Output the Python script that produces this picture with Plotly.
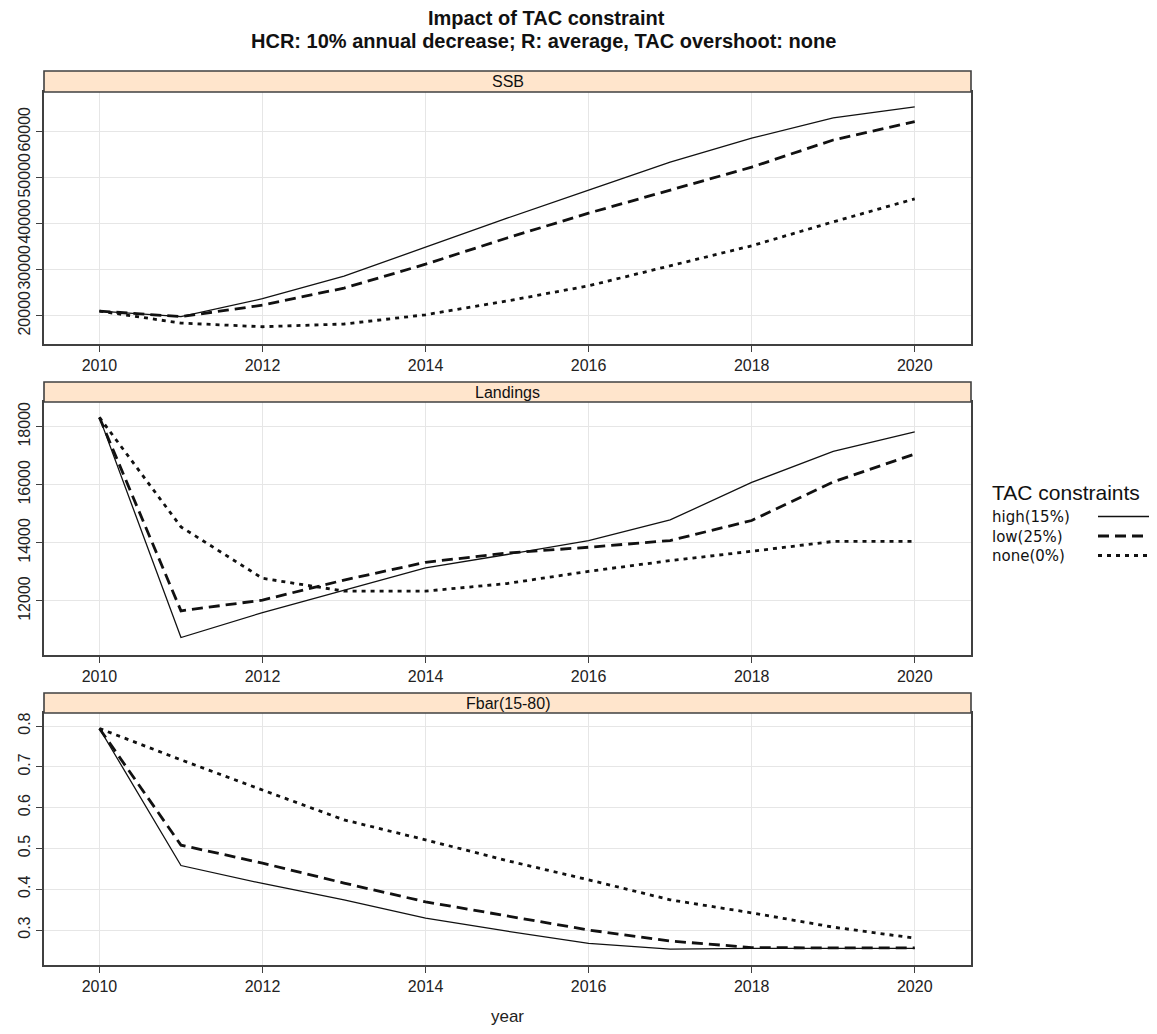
import plotly.graph_objects as go

years = [2010, 2011, 2012, 2013, 2014, 2015, 2016, 2017, 2018, 2019, 2020]
scenarios = ["high(15%)", "low(25%)", "none(0%)"]

ssb_high = [21000, 19800, 23700, 28600, 34900, 41200, 47300, 53400, 58600, 63000, 65400]
ssb_low = [21000, 19800, 22300, 26000, 31200, 36900, 42300, 47300, 52300, 58200, 62200]
ssb_none = [21000, 18400, 17600, 18200, 20200, 23200, 26500, 30800, 35200, 40400, 45400]

land_high = [18320, 10740, 11600, 12380, 13140, 13600, 14080, 14790, 16080, 17150, 17820]
land_low = [18320, 11660, 12030, 12720, 13330, 13650, 13850, 14080, 14770, 16100, 17060]
land_none = [18320, 14550, 12780, 12340, 12340, 12600, 13020, 13390, 13710, 14050, 14050]

fbar_high = [0.794, 0.458, 0.414, 0.374, 0.329, 0.297, 0.267, 0.253, 0.255, 0.255, 0.255]
fbar_low = [0.794, 0.508, 0.464, 0.415, 0.369, 0.335, 0.300, 0.273, 0.257, 0.256, 0.256]
fbar_none = [0.794, 0.717, 0.643, 0.570, 0.521, 0.470, 0.423, 0.374, 0.342, 0.307, 0.280]

panel_names = ["SSB", "Landings", "Fbar(15-80)"]
ssb_ticks = [20000, 30000, 40000, 50000, 60000]
land_ticks = [12000, 14000, 16000, 18000]
fbar_ticks = [0.3, 0.4, 0.5, 0.6, 0.7, 0.8]
x_ticks = [2010, 2012, 2014, 2016, 2018, 2020]

W, H = 1157, 1034
OFF = 8  # page body margin
def py(p):
    return 1 - (p - OFF) / H
def px(p):
    return (p - OFF) / W

FONT = "Liberation Sans, Arial, sans-serif"

styles = {
    "high(15%)": dict(width=1.3, dash="solid"),
    "low(25%)": dict(width=2.8, dash="11px,6px"),
    "none(0%)": dict(width=2.8, dash="4px,5px"),
}

data = [
    (ssb_high, ssb_low, ssb_none),
    (land_high, land_low, land_none),
    (fbar_high, fbar_low, fbar_none),
]

fig = go.Figure()
for i, series in enumerate(data):
    suffix = "" if i == 0 else str(i + 1)
    for name, vals in zip(scenarios, series):
        fig.add_trace(go.Scatter(
            x=years, y=vals, mode="lines", name=name,
            line=dict(color="#111111", **styles[name]),
            xaxis="x" + suffix, yaxis="y" + suffix, showlegend=False,
        ))

# panel pixel positions (top of strip, top of plot, bottom of plot)
panels = [(71, 92, 344), (382, 402, 655), (693, 713, 965)]
yranges = [[13850, 68630], [10140, 18850], [0.2142, 0.8319]]
ytickvals = [ssb_ticks, land_ticks, fbar_ticks]
yformats = ["d", "d", ".1f"]
x_left, x_right = 44, 971

axcol = "#404040"
font_tick = dict(family=FONT, size=16, color="#222222")
layout = dict(
    width=W, height=H,
    margin=dict(l=0, r=0, t=0, b=0),
    paper_bgcolor="white", plot_bgcolor="white",
    showlegend=False,
)
shapes = []
annotations = []
for i, (ts, tp, bp) in enumerate(panels):
    suffix = "" if i == 0 else str(i + 1)
    layout["xaxis" + suffix] = dict(
        domain=[px(x_left), px(x_right)], range=[2009.32, 2020.69],
        anchor="y" + suffix, tickvals=x_ticks, ticks="outside", ticklen=6,
        tickcolor=axcol, tickwidth=1.2,
        showline=True, linecolor=axcol, linewidth=1.6, mirror=True,
        showgrid=True, gridcolor="#e6e6e6", gridwidth=1.2,
        zeroline=False, tickfont=font_tick,
    )
    layout["yaxis" + suffix] = dict(
        domain=[py(bp), py(tp)], range=yranges[i],
        anchor="x" + suffix, tickvals=ytickvals[i], tickformat=yformats[i],
        ticks="outside", ticklen=6,
        tickcolor=axcol, tickwidth=1.2,
        showline=True, linecolor=axcol, linewidth=1.6, mirror=True,
        showgrid=True, gridcolor="#e6e6e6", gridwidth=1.2,
        zeroline=False, tickfont=font_tick, tickangle=-90,
    )
    # strip
    shapes.append(dict(type="rect", xref="paper", yref="paper",
                       x0=px(x_left), x1=px(x_right), y0=py(tp), y1=py(ts),
                       fillcolor="#ffe5cc", line=dict(color=axcol, width=1.6),
                       layer="above"))
    annotations.append(dict(text=panel_names[i], xref="paper", yref="paper",
                            x=px((x_left + x_right) / 2), y=py((ts + tp) / 2),
                            showarrow=False, xanchor="center", yanchor="middle",
                            font=dict(family=FONT, size=16, color="#111111")))

layout["xaxis3"]["title"] = dict(text="year", font=dict(family=FONT, size=17, color="#222222"), standoff=16)

# title
annotations.append(dict(text="<b>Impact of TAC constraint</b>", xref="paper", yref="paper",
                        x=px(546), y=py(18), showarrow=False, xanchor="center", yanchor="middle",
                        font=dict(family=FONT, size=20, color="#111111")))
annotations.append(dict(text="<b>HCR: 10% annual decrease; R: average, TAC overshoot: none</b>", xref="paper", yref="paper",
                        x=px(543), y=py(41), showarrow=False, xanchor="center", yanchor="middle",
                        font=dict(family=FONT, size=20, color="#111111")))

# legend (key)
annotations.append(dict(text="TAC constraints", xref="paper", yref="paper",
                        x=px(990), y=py(492), showarrow=False, xanchor="left", yanchor="middle",
                        font=dict(family=FONT, size=21, color="#111111")))
key_y = [516.5, 536, 555.5]
annotations.append(dict(text="<br>".join(scenarios), xref="paper", yref="paper",
                        x=px(990), y=py(536), showarrow=False, xanchor="left", yanchor="middle",
                        align="left",
                        font=dict(family="DejaVu Sans, sans-serif", size=15, color="#111111")))
for name, ky in zip(scenarios, key_y):
    shapes.append(dict(type="line", xref="paper", yref="paper",
                       x0=px(1098), x1=px(1152), y0=py(ky), y1=py(ky),
                       line=dict(color="#111111", **styles[name])))

layout["shapes"] = shapes
layout["annotations"] = annotations
fig.update_layout(**layout)
fig.write_html("out.html")
